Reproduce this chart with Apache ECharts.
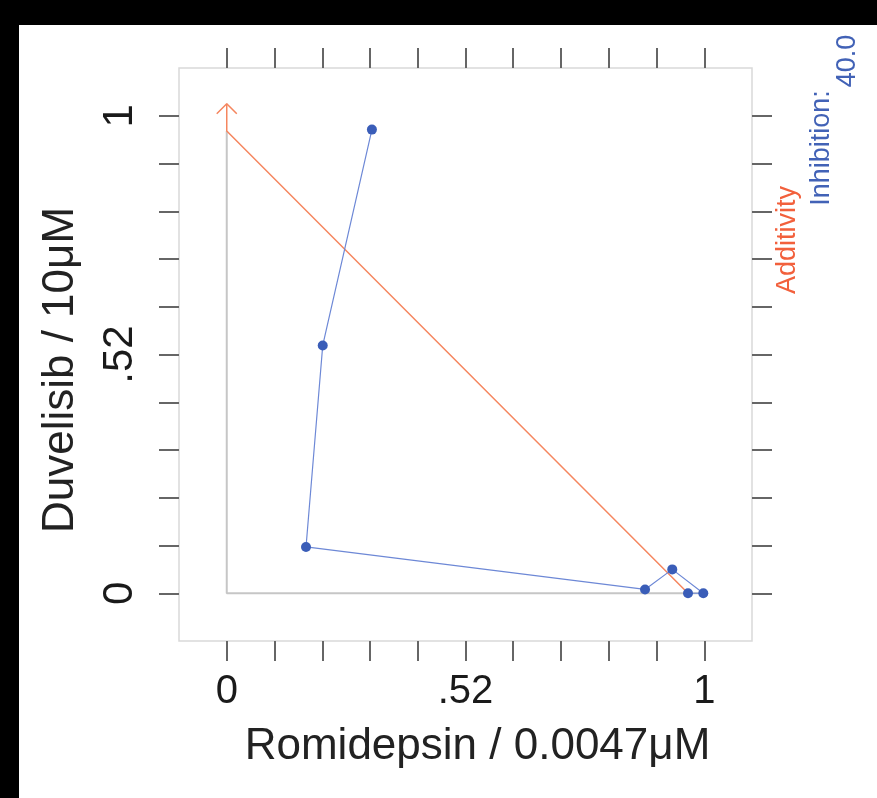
<!DOCTYPE html>
<html>
<head>
<meta charset="utf-8">
<script src="https://cdn.jsdelivr.net/npm/echarts@6/dist/echarts.min.js"></script>
<style>
  html, body { margin: 0; padding: 0; width: 877px; height: 798px; background: #000; overflow: hidden; }
  #chart { position: absolute; left: 19px; top: 25px; width: 858px; height: 773px; background: #fff; }
</style>
</head>
<body>
<div id="chart"></div>
<script>
// ---- data ----
const xTitle = 'Romidepsin / 0.0047\u03bcM';
const yTitle = 'Duvelisib / 10\u03bcM';
const tickValues = [0, 0.1, 0.2, 0.3, 0.4, 0.5, 0.6, 0.7, 0.8, 0.9, 1];
const labelValues = [0, 0.5, 1];
const labelTexts = ['0', '.52', '1'];
// Isobole (40% inhibition) points: [Romidepsin fraction, Duvelisib fraction]
const isoboleX = [0.304, 0.201, 0.166, 0.876, 0.933, 0.998, 0.966];
const isoboleY = [0.971, 0.519, 0.097, 0.008, 0.050, 0.000, 0.000];
// Additivity line from single-agent doses, ending in an arrow up the y axis
const additivityX = [0.966, 0, 0];
const additivityY = [0, 0.968, 1.025];
const arrowX = [-0.021, 0, 0.021];
const arrowY = [1.004, 1.025, 1.004];
// reference axes (L shape)
const refAxisX = [0, 0, 1];
const refAxisY = [0.968, 0, 0];
const legendAdditivity = 'Additivity';
const legendInhibition = 'Inhibition:';
const legendLevel = '40.0';

const zip = (xs, ys) => xs.map((x, i) => [x, ys[i]]);

const FONT = 'Liberation Sans, Arial, Helvetica, sans-serif';
const tickStyle = { show: true, inside: false, length: 20, lineStyle: { color: '#666', width: 2 }, customValues: tickValues };
const hiddenLine = { show: false, onZero: false };
const labelFmt = v => {
  const i = labelValues.findIndex(t => Math.abs(t - v) < 1e-9);
  return i >= 0 ? labelTexts[i] : '';
};

const chart = echarts.init(document.getElementById('chart'), null, { renderer: 'canvas' });
chart.setOption({
  animation: false,
  backgroundColor: '#fff',
  grid: { left: 160, top: 43, right: 125, bottom: 157, show: true, borderColor: '#d9d9d9', borderWidth: 1.5, backgroundColor: 'transparent' },
  xAxis: [
    {
      type: 'value', position: 'bottom', min: -0.1, max: 1.1, interval: 0.1,
      axisLine: hiddenLine, splitLine: { show: false },
      axisTick: tickStyle,
      axisLabel: { show: true, customValues: labelValues, formatter: labelFmt, fontSize: 40, color: '#1a1a1a', fontFamily: FONT, margin: 31 },
      name: xTitle, nameLocation: 'middle', nameGap: 84,
      nameTextStyle: { fontSize: 44, color: '#222', fontFamily: FONT, padding: [0, 0, 0, 24] }
    },
    {
      type: 'value', position: 'top', min: -0.1, max: 1.1, interval: 0.1,
      axisLine: hiddenLine, splitLine: { show: false },
      axisTick: tickStyle, axisLabel: { show: false }
    }
  ],
  yAxis: [
    {
      type: 'value', position: 'left', min: -0.1, max: 1.1, interval: 0.1,
      axisLine: hiddenLine, splitLine: { show: false },
      axisTick: tickStyle,
      axisLabel: { show: true, customValues: labelValues, formatter: labelFmt, fontSize: 42, color: '#1a1a1a', fontFamily: FONT, rotate: 90, margin: 38 },
      name: yTitle, nameLocation: 'middle', nameGap: 96, nameRotate: 90,
      nameTextStyle: { fontSize: 44, color: '#222', fontFamily: FONT, padding: [0, 31, 0, 0] }
    },
    {
      type: 'value', position: 'right', min: -0.1, max: 1.1, interval: 0.1,
      axisLine: hiddenLine, splitLine: { show: false },
      axisTick: tickStyle, axisLabel: { show: false }
    }
  ],
  series: [
    {
      type: 'line', data: zip(refAxisX, refAxisY), symbol: 'none', silent: true,
      lineStyle: { color: '#c6c6c6', width: 2 }, z: 1
    },
    {
      type: 'line', data: zip(additivityX, additivityY), symbol: 'none', silent: true,
      lineStyle: { color: '#f5865f', width: 1.5 }, z: 2
    },
    {
      type: 'line', data: zip(arrowX, arrowY), symbol: 'none', silent: true,
      lineStyle: { color: '#f5865f', width: 1.5 }, z: 2
    },
    {
      type: 'line', data: zip(isoboleX, isoboleY), symbol: 'circle', symbolSize: 10,
      itemStyle: { color: '#3a5db8' }, lineStyle: { color: '#6d88d6', width: 1.2 }, z: 3
    }
  ],
  graphic: [
    { type: 'text', x: 769, y: 215, rotation: Math.PI / 2,
      style: { text: legendAdditivity, fill: '#f2603c', fontSize: 27, fontFamily: FONT, align: 'center', verticalAlign: 'middle' } },
    { type: 'text', x: 803, y: 123, rotation: Math.PI / 2,
      style: { text: legendInhibition, fill: '#4262b6', fontSize: 27, fontFamily: FONT, align: 'center', verticalAlign: 'middle' } },
    { type: 'text', x: 829, y: 36, rotation: Math.PI / 2,
      style: { text: legendLevel, fill: '#4262b6', fontSize: 27, fontFamily: FONT, align: 'center', verticalAlign: 'middle' } }
  ]
});
</script>
</body>
</html>
